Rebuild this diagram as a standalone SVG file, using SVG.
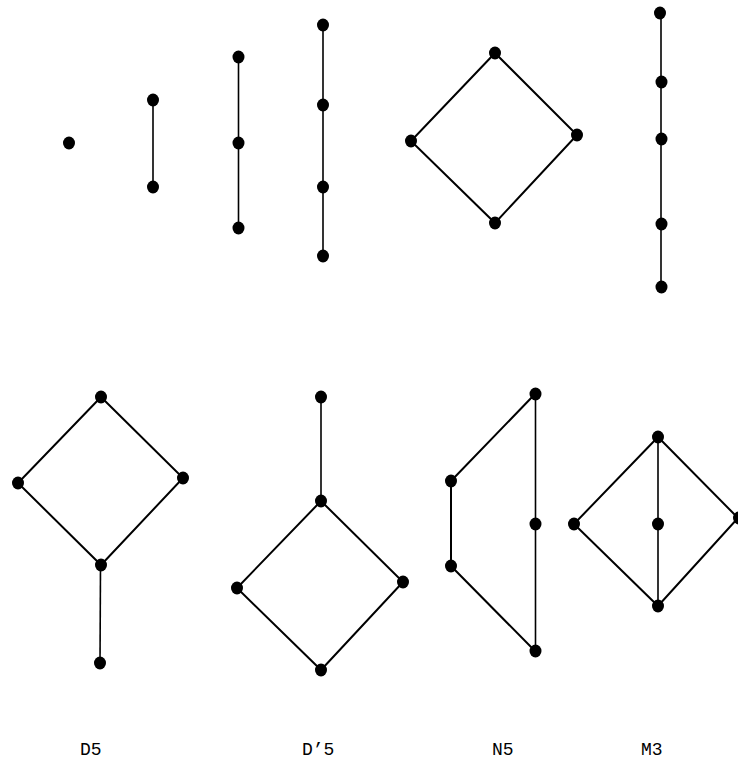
<svg xmlns="http://www.w3.org/2000/svg" width="738" height="760" viewBox="0 0 738 760">
<style>
.e{stroke:#000;stroke-width:2;fill:none}
.v{stroke:#000;stroke-width:1.6;fill:none}
.n{fill:#000}
.t{font-family:"Liberation Mono","Courier New",monospace;font-size:18px;fill:#000}
</style>
<defs><ellipse id="dot" cx="0" cy="0" rx="6" ry="6.5"/></defs>
<rect width="738" height="760" fill="#fff"/>
<g id="connectors">
<line class="v" x1="153" y1="100" x2="153" y2="187"/>
<line class="v" x1="238.5" y1="57" x2="238.5" y2="228"/>
<line class="v" x1="323" y1="25" x2="323" y2="256"/>
<polyline class="e" points="495,53 577,135 495,223 411,141 495,53"/>
<line class="v" x1="661" y1="13" x2="661" y2="287"/>
<polyline class="e" points="101,397 183,478 101,565 18,483 101,397"/>
<line class="v" x1="100.5" y1="565" x2="100" y2="663"/>
<line class="v" x1="321" y1="397" x2="321" y2="501"/>
<polyline class="e" points="321,501 403,582 321,670 237,588 321,501"/>
<polyline class="e" points="535,394 451,481 451,566 535,651"/>
<line class="v" x1="535.5" y1="394" x2="535.5" y2="651"/>
<polyline class="e" points="658,437 738,518 658,606 574,524 658,437"/>
<line class="v" x1="658" y1="437" x2="658" y2="606"/>
</g>
<g id="chain1"><use href="#dot" x="69" y="143"/></g>
<g id="chain2"><use href="#dot" x="153" y="100"/><use href="#dot" x="153" y="187"/></g>
<g id="chain3"><use href="#dot" x="238.5" y="57"/><use href="#dot" x="238.5" y="143"/><use href="#dot" x="238.5" y="228"/></g>
<g id="chain4"><use href="#dot" x="323" y="25"/><use href="#dot" x="323" y="105"/><use href="#dot" x="323" y="187"/><use href="#dot" x="323" y="256"/></g>
<g id="square"><use href="#dot" x="495" y="53"/><use href="#dot" x="411" y="141"/><use href="#dot" x="577" y="135"/><use href="#dot" x="495" y="223"/></g>
<g id="chain5"><use href="#dot" x="660" y="13"/><use href="#dot" x="661.5" y="82"/><use href="#dot" x="661.5" y="139"/><use href="#dot" x="661.5" y="224"/><use href="#dot" x="661.5" y="287"/></g>
<g id="D5"><use href="#dot" x="101" y="397"/><use href="#dot" x="18" y="483"/><use href="#dot" x="183" y="478"/><use href="#dot" x="101" y="565"/><use href="#dot" x="100" y="663"/>
<text class="t" x="80" y="755">D5</text></g>
<g id="Dp5"><use href="#dot" x="321" y="397"/><use href="#dot" x="321" y="501"/><use href="#dot" x="237" y="588"/><use href="#dot" x="403" y="582"/><use href="#dot" x="321" y="670"/>
<text class="t" x="302" y="755">D’5</text></g>
<g id="N5"><use href="#dot" x="535.5" y="394"/><use href="#dot" x="451" y="481"/><use href="#dot" x="451" y="566"/><use href="#dot" x="535.5" y="524"/><use href="#dot" x="535.5" y="651"/>
<text class="t" x="492" y="755">N5</text></g>
<g id="M3"><use href="#dot" x="658" y="437"/><use href="#dot" x="574" y="524"/><use href="#dot" x="658" y="524"/><use href="#dot" x="739" y="518"/><use href="#dot" x="658" y="606"/>
<text class="t" x="641" y="755">M3</text></g>
</svg>
